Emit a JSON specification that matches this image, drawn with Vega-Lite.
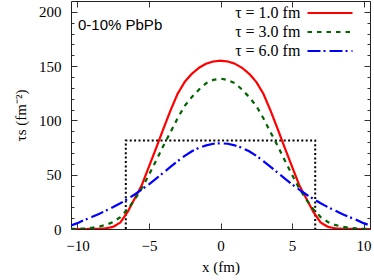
{
  "$schema": "https://vega.github.io/schema/vega-lite/v6.json",
  "width": 299,
  "height": 228,
  "autosize": {"type": "none"},
  "padding": {"left": 71, "top": 1, "right": 4, "bottom": 51},
  "background": "white",
  "title": {
    "text": "0-10% PbPb",
    "orient": "top",
    "anchor": "start",
    "frame": "group",
    "offset": 0,
    "dx": 7,
    "dy": 44,
    "baseline": "alphabetic",
    "font": "Liberation Sans",
    "fontSize": 15,
    "fontWeight": "normal",
    "color": "#000"
  },
  "datasets": {
    "curves": [
      {"x": -10.45, "y": 0, "series": "τ = 1.0 fm"},
      {"x": -10, "y": 0, "series": "τ = 1.0 fm"},
      {"x": -9.5, "y": 0, "series": "τ = 1.0 fm"},
      {"x": -9, "y": 0.05, "series": "τ = 1.0 fm"},
      {"x": -8.5, "y": 0.2, "series": "τ = 1.0 fm"},
      {"x": -8, "y": 0.6, "series": "τ = 1.0 fm"},
      {"x": -7.5, "y": 2, "series": "τ = 1.0 fm"},
      {"x": -7, "y": 6, "series": "τ = 1.0 fm"},
      {"x": -6.5, "y": 15.5, "series": "τ = 1.0 fm"},
      {"x": -6, "y": 28, "series": "τ = 1.0 fm"},
      {"x": -5.5, "y": 40.5, "series": "τ = 1.0 fm"},
      {"x": -5, "y": 57.5, "series": "τ = 1.0 fm"},
      {"x": -4.5, "y": 74.5, "series": "τ = 1.0 fm"},
      {"x": -4, "y": 92, "series": "τ = 1.0 fm"},
      {"x": -3.5, "y": 109, "series": "τ = 1.0 fm"},
      {"x": -3, "y": 124.5, "series": "τ = 1.0 fm"},
      {"x": -2.5, "y": 135.5, "series": "τ = 1.0 fm"},
      {"x": -2, "y": 143, "series": "τ = 1.0 fm"},
      {"x": -1.5, "y": 148.5, "series": "τ = 1.0 fm"},
      {"x": -1, "y": 152.3, "series": "τ = 1.0 fm"},
      {"x": -0.5, "y": 154.3, "series": "τ = 1.0 fm"},
      {"x": 0, "y": 155, "series": "τ = 1.0 fm"},
      {"x": 0.5, "y": 154.3, "series": "τ = 1.0 fm"},
      {"x": 1, "y": 152.3, "series": "τ = 1.0 fm"},
      {"x": 1.5, "y": 148.5, "series": "τ = 1.0 fm"},
      {"x": 2, "y": 143, "series": "τ = 1.0 fm"},
      {"x": 2.5, "y": 135.5, "series": "τ = 1.0 fm"},
      {"x": 3, "y": 124.5, "series": "τ = 1.0 fm"},
      {"x": 3.5, "y": 109, "series": "τ = 1.0 fm"},
      {"x": 4, "y": 92, "series": "τ = 1.0 fm"},
      {"x": 4.5, "y": 74.5, "series": "τ = 1.0 fm"},
      {"x": 5, "y": 57.5, "series": "τ = 1.0 fm"},
      {"x": 5.5, "y": 40.5, "series": "τ = 1.0 fm"},
      {"x": 6, "y": 28, "series": "τ = 1.0 fm"},
      {"x": 6.5, "y": 15.5, "series": "τ = 1.0 fm"},
      {"x": 7, "y": 6, "series": "τ = 1.0 fm"},
      {"x": 7.5, "y": 2, "series": "τ = 1.0 fm"},
      {"x": 8, "y": 0.6, "series": "τ = 1.0 fm"},
      {"x": 8.5, "y": 0.2, "series": "τ = 1.0 fm"},
      {"x": 9, "y": 0.05, "series": "τ = 1.0 fm"},
      {"x": 9.5, "y": 0, "series": "τ = 1.0 fm"},
      {"x": 10, "y": 0, "series": "τ = 1.0 fm"},
      {"x": 10.45, "y": 0, "series": "τ = 1.0 fm"},

      {"x": -10.45, "y": 0.1, "series": "τ = 3.0 fm"},
      {"x": -10, "y": 0.2, "series": "τ = 3.0 fm"},
      {"x": -9.5, "y": 0.5, "series": "τ = 3.0 fm"},
      {"x": -9, "y": 1.1, "series": "τ = 3.0 fm"},
      {"x": -8.5, "y": 2.2, "series": "τ = 3.0 fm"},
      {"x": -8, "y": 3.8, "series": "τ = 3.0 fm"},
      {"x": -7.5, "y": 6.5, "series": "τ = 3.0 fm"},
      {"x": -7, "y": 11, "series": "τ = 3.0 fm"},
      {"x": -6.5, "y": 18, "series": "τ = 3.0 fm"},
      {"x": -6, "y": 27, "series": "τ = 3.0 fm"},
      {"x": -5.5, "y": 37.5, "series": "τ = 3.0 fm"},
      {"x": -5, "y": 50, "series": "τ = 3.0 fm"},
      {"x": -4.5, "y": 63, "series": "τ = 3.0 fm"},
      {"x": -4, "y": 76.5, "series": "τ = 3.0 fm"},
      {"x": -3.5, "y": 89, "series": "τ = 3.0 fm"},
      {"x": -3, "y": 102, "series": "τ = 3.0 fm"},
      {"x": -2.5, "y": 113.4, "series": "τ = 3.0 fm"},
      {"x": -2, "y": 121.6, "series": "τ = 3.0 fm"},
      {"x": -1.5, "y": 128.5, "series": "τ = 3.0 fm"},
      {"x": -1, "y": 134.3, "series": "τ = 3.0 fm"},
      {"x": -0.5, "y": 137.3, "series": "τ = 3.0 fm"},
      {"x": 0, "y": 138.5, "series": "τ = 3.0 fm"},
      {"x": 0.5, "y": 137.3, "series": "τ = 3.0 fm"},
      {"x": 1, "y": 134.3, "series": "τ = 3.0 fm"},
      {"x": 1.5, "y": 128.5, "series": "τ = 3.0 fm"},
      {"x": 2, "y": 121.6, "series": "τ = 3.0 fm"},
      {"x": 2.5, "y": 113.4, "series": "τ = 3.0 fm"},
      {"x": 3, "y": 102, "series": "τ = 3.0 fm"},
      {"x": 3.5, "y": 89, "series": "τ = 3.0 fm"},
      {"x": 4, "y": 76.5, "series": "τ = 3.0 fm"},
      {"x": 4.5, "y": 63, "series": "τ = 3.0 fm"},
      {"x": 5, "y": 50, "series": "τ = 3.0 fm"},
      {"x": 5.5, "y": 37.5, "series": "τ = 3.0 fm"},
      {"x": 6, "y": 27, "series": "τ = 3.0 fm"},
      {"x": 6.5, "y": 18, "series": "τ = 3.0 fm"},
      {"x": 7, "y": 11, "series": "τ = 3.0 fm"},
      {"x": 7.5, "y": 6.5, "series": "τ = 3.0 fm"},
      {"x": 8, "y": 3.8, "series": "τ = 3.0 fm"},
      {"x": 8.5, "y": 2.2, "series": "τ = 3.0 fm"},
      {"x": 9, "y": 1.1, "series": "τ = 3.0 fm"},
      {"x": 9.5, "y": 0.5, "series": "τ = 3.0 fm"},
      {"x": 10, "y": 0.2, "series": "τ = 3.0 fm"},
      {"x": 10.45, "y": 0.1, "series": "τ = 3.0 fm"},

      {"x": -10.45, "y": 3.2, "series": "τ = 6.0 fm"},
      {"x": -10, "y": 5.4, "series": "τ = 6.0 fm"},
      {"x": -9.5, "y": 8.4, "series": "τ = 6.0 fm"},
      {"x": -9, "y": 11, "series": "τ = 6.0 fm"},
      {"x": -8.5, "y": 13.9, "series": "τ = 6.0 fm"},
      {"x": -8, "y": 17, "series": "τ = 6.0 fm"},
      {"x": -7.5, "y": 20.2, "series": "τ = 6.0 fm"},
      {"x": -7, "y": 23.7, "series": "τ = 6.0 fm"},
      {"x": -6.5, "y": 27.6, "series": "τ = 6.0 fm"},
      {"x": -6, "y": 31.8, "series": "τ = 6.0 fm"},
      {"x": -5.5, "y": 36.3, "series": "τ = 6.0 fm"},
      {"x": -5, "y": 41.2, "series": "τ = 6.0 fm"},
      {"x": -4.5, "y": 46.4, "series": "τ = 6.0 fm"},
      {"x": -4, "y": 51.8, "series": "τ = 6.0 fm"},
      {"x": -3.5, "y": 57.2, "series": "τ = 6.0 fm"},
      {"x": -3, "y": 62.5, "series": "τ = 6.0 fm"},
      {"x": -2.5, "y": 67.4, "series": "τ = 6.0 fm"},
      {"x": -2, "y": 71.6, "series": "τ = 6.0 fm"},
      {"x": -1.5, "y": 74.8, "series": "τ = 6.0 fm"},
      {"x": -1, "y": 77, "series": "τ = 6.0 fm"},
      {"x": -0.5, "y": 78.5, "series": "τ = 6.0 fm"},
      {"x": 0, "y": 79, "series": "τ = 6.0 fm"},
      {"x": 0.5, "y": 78.5, "series": "τ = 6.0 fm"},
      {"x": 1, "y": 77, "series": "τ = 6.0 fm"},
      {"x": 1.5, "y": 74.8, "series": "τ = 6.0 fm"},
      {"x": 2, "y": 71.6, "series": "τ = 6.0 fm"},
      {"x": 2.5, "y": 67.4, "series": "τ = 6.0 fm"},
      {"x": 3, "y": 62.5, "series": "τ = 6.0 fm"},
      {"x": 3.5, "y": 57.2, "series": "τ = 6.0 fm"},
      {"x": 4, "y": 51.8, "series": "τ = 6.0 fm"},
      {"x": 4.5, "y": 46.4, "series": "τ = 6.0 fm"},
      {"x": 5, "y": 41.2, "series": "τ = 6.0 fm"},
      {"x": 5.5, "y": 36.3, "series": "τ = 6.0 fm"},
      {"x": 6, "y": 31.8, "series": "τ = 6.0 fm"},
      {"x": 6.5, "y": 27.6, "series": "τ = 6.0 fm"},
      {"x": 7, "y": 23.7, "series": "τ = 6.0 fm"},
      {"x": 7.5, "y": 20.2, "series": "τ = 6.0 fm"},
      {"x": 8, "y": 17, "series": "τ = 6.0 fm"},
      {"x": 8.5, "y": 13.9, "series": "τ = 6.0 fm"},
      {"x": 9, "y": 11, "series": "τ = 6.0 fm"},
      {"x": 9.5, "y": 8.4, "series": "τ = 6.0 fm"},
      {"x": 10, "y": 5.4, "series": "τ = 6.0 fm"},
      {"x": 10.45, "y": 3.2, "series": "τ = 6.0 fm"}
    ],
    "box": [
      {"order": 1, "x": -6.62, "y": 0},
      {"order": 2, "x": -6.62, "y": 81.5},
      {"order": 3, "x": 6.62, "y": 81.5},
      {"order": 4, "x": 6.62, "y": 0}
    ]
  },
  "layer": [
    {
      "data": {"name": "box"},
      "mark": {"type": "line", "color": "#000", "strokeWidth": 2, "strokeDash": [2, 2.4], "clip": true},
      "encoding": {
        "x": {
          "field": "x", "type": "quantitative",
          "scale": {"domain": [-10.45, 10.45], "nice": false, "zero": false},
          "axis": {
            "orient": "top", "offset": -6, "values": [-10, -5, 0, 5, 10], "labels": false, "title": null,
            "grid": false, "domain": false, "tickSize": 6, "tickColor": "#333", "tickWidth": 1
          }
        },
        "y": {
          "field": "y", "type": "quantitative",
          "scale": {"domain": [0, 210], "nice": false},
          "axis": {
            "orient": "right", "offset": -6, "values": [0, 10, 20, 30, 40, 50, 60, 70, 80, 90, 100, 110, 120, 130, 140, 150, 160, 170, 180, 190, 200],
            "labels": false, "title": null, "grid": false, "domain": false,
            "tickSize": 6,
            "tickDash": {"condition": {"test": "datum.value % 50 === 0", "value": [6, 0]}, "value": [0, 3, 6, 0]},
            "tickColor": "#333", "tickWidth": 1
          }
        },
        "order": {"field": "order", "type": "quantitative"}
      }
    },
    {
      "data": {"name": "curves"},
      "mark": {"type": "line", "strokeWidth": 2.2, "clip": true},
      "encoding": {
        "x": {
          "field": "x", "type": "quantitative",
          "scale": {"domain": [-10.45, 10.45], "nice": false, "zero": false},
          "axis": {
            "orient": "bottom", "offset": -6, "values": [-10, -5, 0, 5, 10], "title": "x (fm)",
            "grid": false, "domain": false, "tickSize": 6, "tickColor": "#333", "tickWidth": 1,
            "labelPadding": 9, "labelFont": "Liberation Serif", "labelFontSize": 15, "labelColor": "#000",
            "labelFlush": false, "labelOverlap": false,
            "titleFont": "Liberation Serif", "titleFontSize": 15, "titleFontWeight": "normal", "titleColor": "#000", "titlePadding": 6
          }
        },
        "y": {
          "field": "y", "type": "quantitative",
          "scale": {"domain": [0, 210], "nice": false},
          "axis": {
            "orient": "left", "offset": -6, "values": [0, 10, 20, 30, 40, 50, 60, 70, 80, 90, 100, 110, 120, 130, 140, 150, 160, 170, 180, 190, 200],
            "labelExpr": "datum.value % 50 === 0 ? datum.label : ''",
            "title": "τs (fm⁻²)", "grid": false, "domain": false,
            "tickSize": 6,
            "tickDash": {"condition": {"test": "datum.value % 50 === 0", "value": [6, 0]}, "value": [0, 3, 6, 0]},
            "tickColor": "#333", "tickWidth": 1,
            "labelPadding": 10, "labelFont": "Liberation Serif", "labelFontSize": 15, "labelColor": "#000",
            "labelFlush": false, "labelOverlap": false, "labelBaseline": "middle",
            "titleFont": "Liberation Serif", "titleFontSize": 15, "titleFontWeight": "normal", "titleColor": "#000", "titlePadding": 10
          }
        },
        "color": {
          "field": "series", "type": "nominal",
          "scale": {"domain": ["τ = 1.0 fm", "τ = 3.0 fm", "τ = 6.0 fm"], "range": ["#ff0000", "#006400", "#0000ff"]},
          "legend": {
            "orient": "none", "legendX": 251, "legendY": 4, "title": null,
            "symbolType": "M-4.5,0H4.5", "symbolSize": 100, "symbolStrokeWidth": 2.2,
            "labelAlign": "right", "labelOffset": -37.6, "labelBaseline": "middle",
            "labelFont": "Liberation Serif", "labelFontSize": 16, "labelColor": "#000", "labelLimit": 200,
            "rowPadding": 3
          }
        },
        "strokeDash": {
          "field": "series", "type": "nominal",
          "scale": {"domain": ["τ = 1.0 fm", "τ = 3.0 fm", "τ = 6.0 fm"], "range": [[1, 0], [4.5, 5], [13, 3, 2, 4]]},
          "legend": {
            "orient": "none", "legendX": 251, "legendY": 4, "title": null,
            "symbolType": "M-4.5,0H4.5", "symbolSize": 100, "symbolStrokeWidth": 2.2,
            "labelAlign": "right", "labelOffset": -37.6, "labelBaseline": "middle",
            "labelFont": "Liberation Serif", "labelFontSize": 16, "labelColor": "#000", "labelLimit": 200,
            "rowPadding": 3
          }
        }
      }
    }
  ],
  "resolve": {"axis": {"x": "independent", "y": "independent"}},
  "config": {
    "view": {"stroke": "#222", "strokeWidth": 1}
  }
}
